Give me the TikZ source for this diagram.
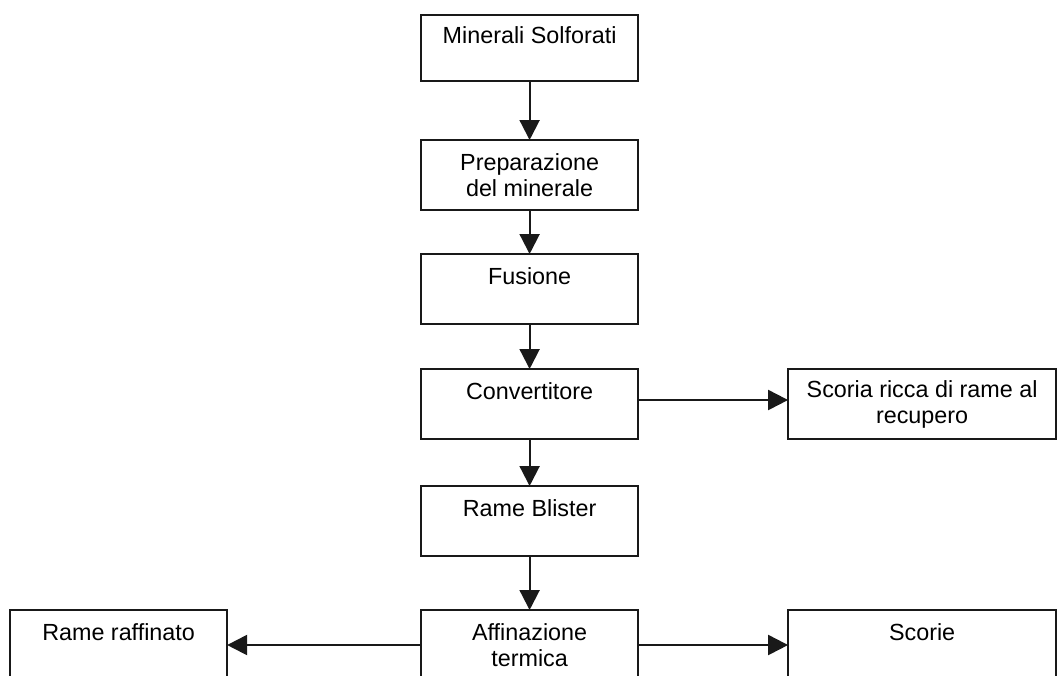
\documentclass[tikz,border=0pt]{standalone}
\usepackage{fontspec}
\setmainfont{Liberation Sans}
\usetikzlibrary{arrows.meta, positioning}

\begin{document}
\begin{tikzpicture}[
		box/.style={rectangle, draw=black!90, line width=1.5pt, minimum width=5.425cm, minimum height=1.75cm,
			align=center, inner sep=0pt, outer sep=0pt, font=\fontsize{16.6}{18.5}\selectfont},
		widebox/.style={box, minimum width=6.7cm},
		arrow/.style={-{Triangle[width=5mm, length=5mm]}, line width=1.5pt, draw=black!90},
		]
		\useasboundingbox (0,0) rectangle (26.45,-16.875);
		\clip (0,0) rectangle (26.45,-16.875);

		% Main column
		\node[box, minimum height=1.65cm] (minerali) at (13.24,-1.2) {Minerali Solforati\\[-6pt]\strut};
		\node[box, below=1.475cm of minerali] (preparazione) {Preparazione\\del minerale};
		\node[box, below=1.1cm of preparazione] (fusione) {Fusione\\[-6pt]\strut};
		\node[box, below=1.125cm of fusione] (convertitore) {Convertitore\\[-6pt]\strut};
		\node[box, below=1.175cm of convertitore] (blister) {Rame Blister\\[-6pt]\strut};
		\node[box, below=1.35cm of blister] (affinazione) {Affinazione\\termica};

		% Side boxes
		\node[widebox, right=3.75cm of convertitore] (scoriaricca) {Scoria ricca di rame al\\recupero};
		\node[box, left=4.85cm of affinazione] (raffinato) {Rame raffinato\\[-6pt]\strut};
		\node[widebox, right=3.75cm of affinazione] (scorie) {Scorie\\[-6pt]\strut};

		% Arrows
		\draw[arrow] (minerali) -- (preparazione);
		\draw[arrow] (preparazione) -- (fusione);
		\draw[arrow] (fusione) -- (convertitore);
		\draw[arrow] (convertitore) -- (blister);
		\draw[arrow] (blister) -- (affinazione);
		\draw[arrow] ([yshift=0.1cm]convertitore.east) -- ([yshift=0.1cm]scoriaricca.west);
		\draw[arrow] (affinazione) -- (raffinato);
		\draw[arrow] (affinazione) -- (scorie);
	\end{tikzpicture}
\end{document}
